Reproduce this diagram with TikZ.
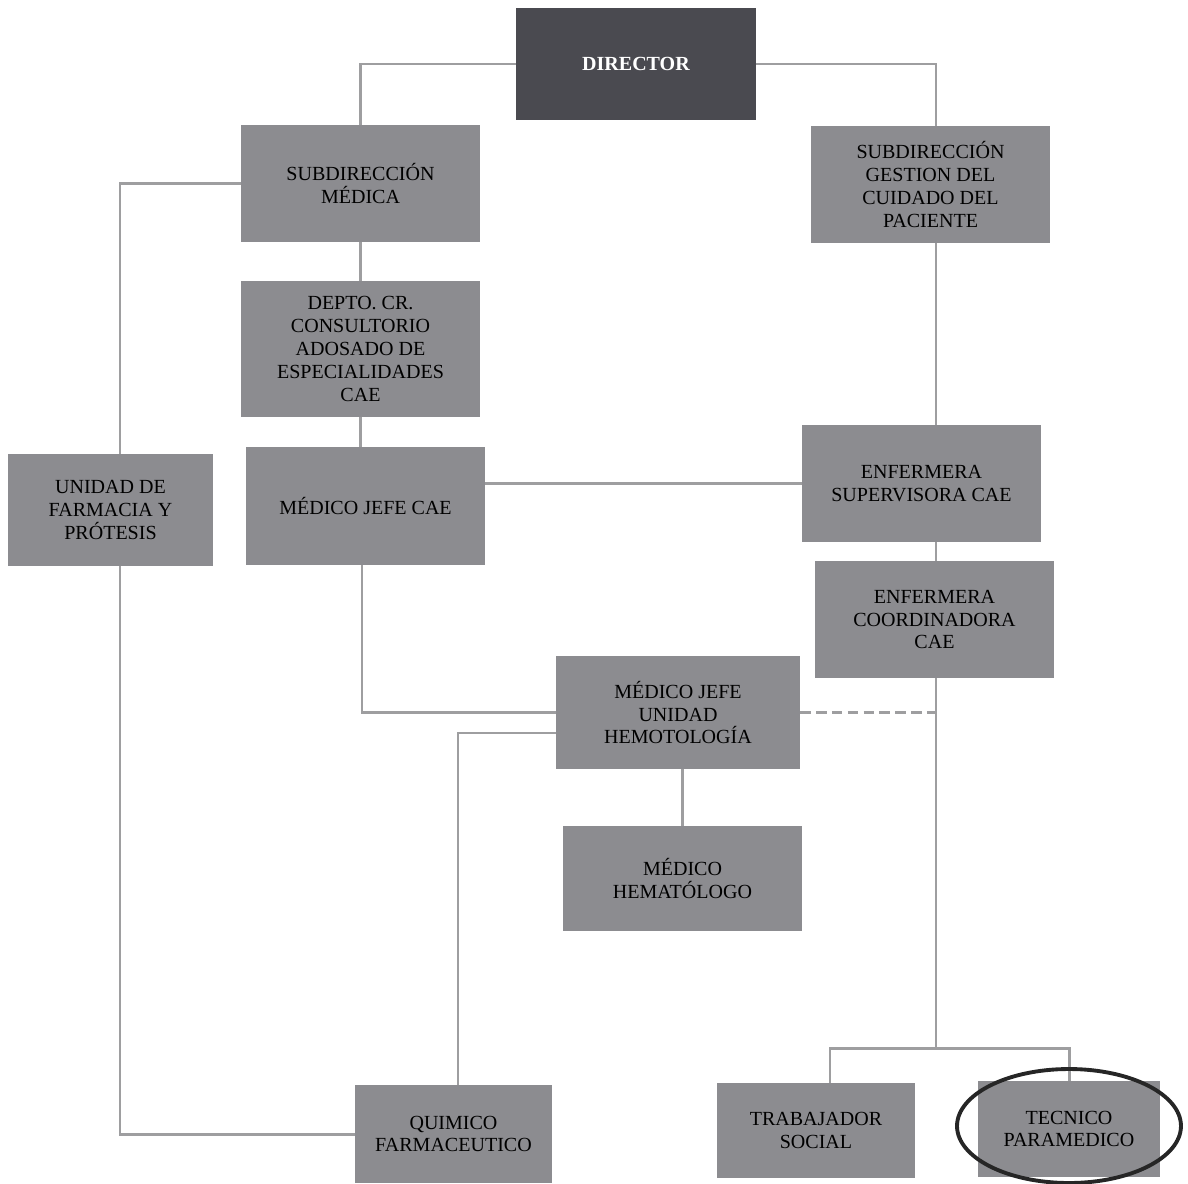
\documentclass[tikz,border=0pt]{standalone}
\usepackage{fontspec}
\setmainfont{Liberation Serif}
\usetikzlibrary{positioning}
\definecolor{boxgray}{RGB}{140,140,144}
\definecolor{dirgray}{RGB}{74,74,80}
\definecolor{linkgray}{RGB}{158,158,160}
\begin{document}
\begin{tikzpicture}[x=0.02cm,y=-0.02cm,
  box/.style={fill=boxgray,align=center,inner sep=2pt,
    font=\fontsize{11.4}{13}\selectfont},
  link/.style={draw=linkgray,line width=1.7pt},
  ring/.style={draw=black!85,line width=2.2pt}]
\useasboundingbox (0,0) rectangle (1188,1184);
\node[box,fill=dirgray,text=white,font=\fontsize{11.4}{13}\selectfont\bfseries,
  minimum width=4.8cm,minimum height=2.24cm] (Dir) at (636,64) {DIRECTOR};
\node[box,minimum width=4.78cm,minimum height=2.34cm] (SubM) at (360.5,183.5) {SUBDIRECCIÓN\\MÉDICA};
\node[box,minimum width=4.78cm,minimum height=2.34cm] (SubG) at (930.5,184.5) {SUBDIRECCIÓN\\GESTION DEL\\CUIDADO DEL\\PACIENTE};
\node[box,minimum width=4.78cm,minimum height=2.72cm] (Dep) at (360.5,349) {DEPTO. CR.\\CONSULTORIO\\ADOSADO DE\\ESPECIALIDADES\\CAE};
\node[box,minimum width=4.78cm,minimum height=2.36cm] (MJCae) at (365.5,506) {MÉDICO JEFE CAE};
\node[box,minimum width=4.1cm,minimum height=2.24cm] (Farm) at (110.5,510) {UNIDAD DE\\FARMACIA Y\\PRÓTESIS};
\node[box,minimum width=4.78cm,minimum height=2.34cm] (ESup) at (921.5,483.5) {ENFERMERA\\SUPERVISORA CAE};
\node[box,minimum width=4.78cm,minimum height=2.34cm] (ECoo) at (934.5,619.5) {ENFERMERA\\COORDINADORA\\CAE};
\node[box,minimum width=4.88cm,minimum height=2.26cm] (MJU) at (678,712.5) {MÉDICO JEFE\\UNIDAD\\HEMOTOLOGÍA};
\node[box,minimum width=4.78cm,minimum height=2.1cm] (Hem) at (682.5,878.5) {MÉDICO\\HEMATÓLOGO};
\node[box,minimum width=3.94cm,minimum height=1.96cm] (Quim) at (453.5,1134) {QUIMICO\\FARMACEUTICO};
\node[box,minimum width=3.96cm,minimum height=1.9cm] (Trab) at (816,1130.5) {TRABAJADOR\\SOCIAL};
\node[box,minimum width=3.64cm,minimum height=1.92cm] (Tec) at (1069,1129) {TECNICO\\PARAMEDICO};
\coordinate (fork) at (936,1048);
% links
\draw[link] (Dir.west) -| (SubM.north);
\draw[link] (Dir.east) -| (SubG.north -| fork);
\draw[link] (SubM.south) -- (SubM.south |- Dep.north);
\draw[link] (Dep.south) -- (Dep.south |- MJCae.north);
\draw[link] (SubM.west) -| ([xshift=.19cm]Farm.north);
\draw[link] ([xshift=.19cm]Farm.south) |- (Quim.west);
\draw[link] (SubG.south -| fork) -- (ESup.north -| fork);
\draw[link] (ESup.south -| fork) -- (ECoo.north -| fork);
\draw[link] (ESup.west) -- (ESup.west -| MJCae.east);
\draw[link] ([xshift=-.07cm]MJCae.south) |- (MJU.west);
\draw[link] ([yshift=-.41cm]MJU.west) -| ([xshift=.09cm]Quim.north);
\draw[link] (Hem.north) -- (Hem.north |- MJU.south);
\draw[link,dashed,dash pattern=on 6pt off 3pt] (MJU.east) -- (MJU.east -| fork);
\draw[link] (ECoo.south -| fork) -- (fork);
\draw[link] (fork) -| ([xshift=.28cm]Trab.north);
\draw[link] (fork) -| (Tec.north);
\draw[ring] (1069,1126) ellipse [x radius=2.24cm, y radius=1.14cm];
\end{tikzpicture}
\end{document}
